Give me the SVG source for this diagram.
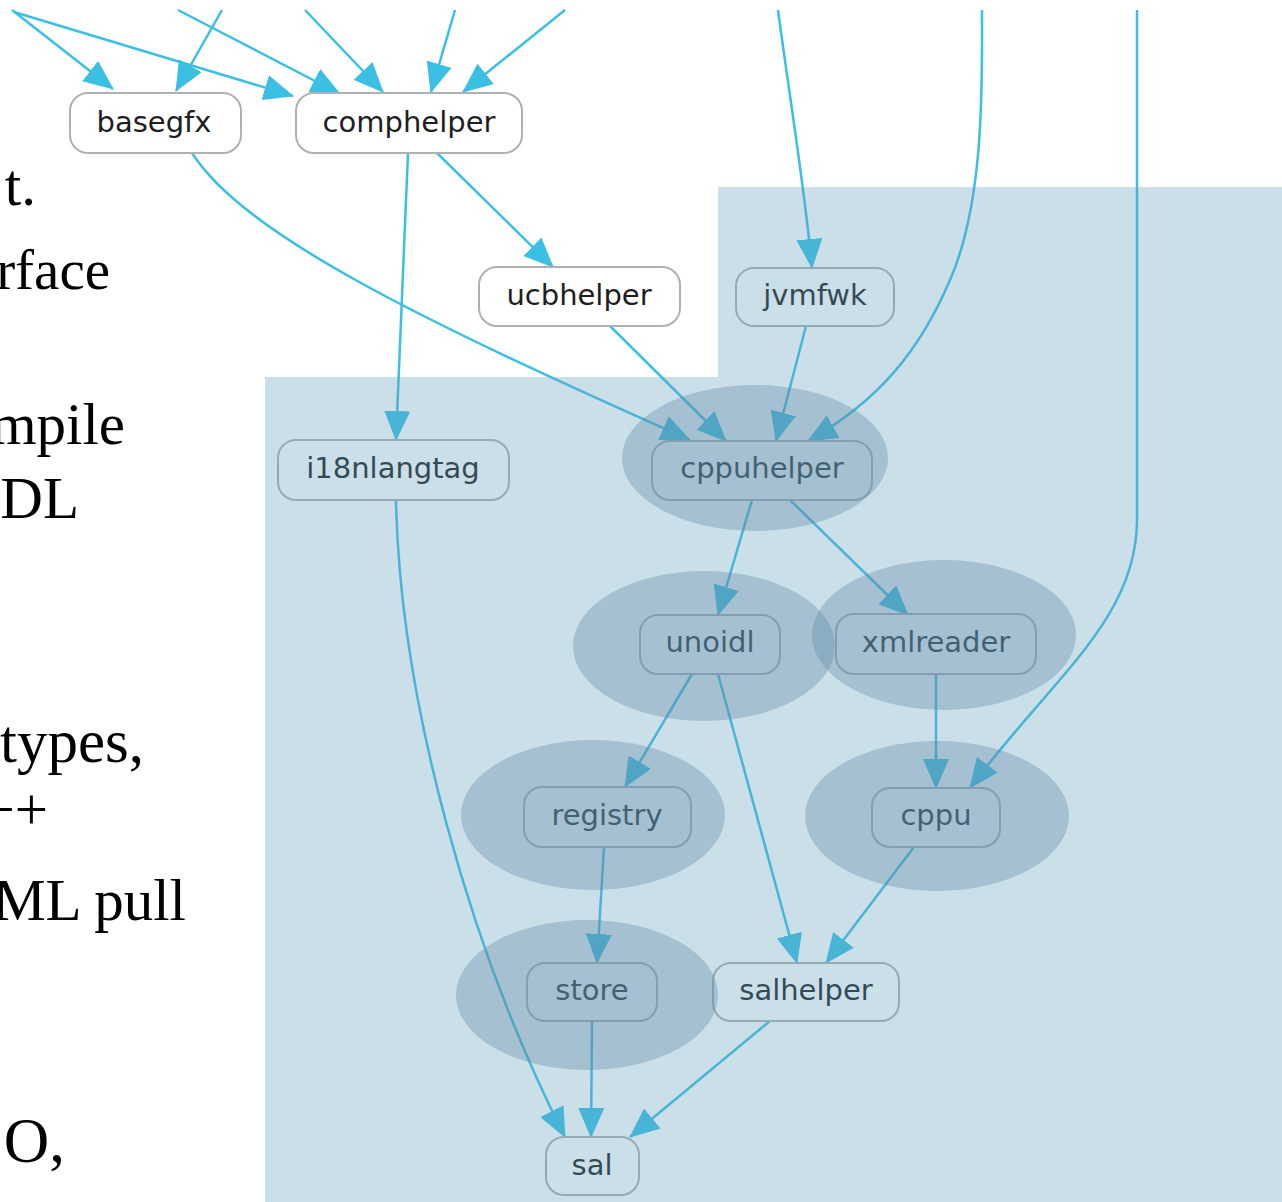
<svg xmlns="http://www.w3.org/2000/svg" width="1282" height="1202" viewBox="0 0 1282 1202">
  <defs>
    <marker id="arrow" markerUnits="userSpaceOnUse" markerWidth="30" markerHeight="26" refX="29" refY="13" orient="auto">
      <path d="M0,0 L30,13 L0,26 z" fill="#3bbfe3"/>
    </marker>
  </defs>
  <style>
    .edge { fill: none; stroke: #3bbfe3; stroke-width: 2.5; marker-end: url(#arrow); }
    .box { fill: #ffffff; stroke: #b0b0b0; stroke-width: 2; }
    .label { font-family: "DejaVu Sans", sans-serif; font-size: 29px; fill: #1e1e1e; text-anchor: middle; dominant-baseline: central; }
    .slide { font-family: "Liberation Serif", serif; font-size: 59px; fill: #000000; text-anchor: end; }
    .area { fill: rgb(100,160,190); fill-opacity: 0.335; }
    .cluster { fill: rgb(95,138,166); fill-opacity: 0.36; }
  </style>

  <rect width="1282" height="1202" fill="#ffffff"/>

  <!-- slide text cut at the left edge -->
  <g id="slide-text">
    <text class="slide" x="36" y="205">t.</text>
    <text class="slide" x="110" y="289" style="font-size:57px">rface</text>
    <text class="slide" x="125" y="444">mpile</text>
    <text class="slide" x="79" y="518">DL</text>
    <text class="slide" x="144" y="762" style="font-size:61px">types,</text>
    <text class="slide" x="48" y="829">++</text>
    <text class="slide" x="186" y="920">ML pull</text>
    <text class="slide" x="65" y="1162" style="font-size:63px">O,</text>
  </g>

  <g id="connectors">
    <path class="edge" d="M12,10 L113,89"/>
    <path class="edge" d="M14,12 L293,96"/>
    <path class="edge" d="M222,10 L176,91"/>
    <path class="edge" d="M178,10 L340,94"/>
    <path class="edge" d="M305,10 L383,92"/>
    <path class="edge" d="M455,10 L431,92"/>
    <path class="edge" d="M565,10 L463,92"/>
    <path class="edge" d="M192,153 C245,235 420,320 690,440"/>
    <path class="edge" d="M408,153 L396,440"/>
    <path class="edge" d="M437,153 L553,267"/>
    <path class="edge" d="M610,326 L726,441"/>
    <path class="edge" d="M806,326 L776,441"/>
    <path class="edge" d="M778,10 C790,100 805,190 812,268"/>
    <path class="edge" d="M982,10 C982,80 985,200 950,280 C920,350 880,400 808,441"/>
    <path class="edge" d="M1137,10 L1137,520 C1137,620 1050,680 970,788"/>
    <path class="edge" d="M752,500 L718,615"/>
    <path class="edge" d="M790,500 L908,615"/>
    <path class="edge" d="M692,674 L625,787"/>
    <path class="edge" d="M718,674 L797,963"/>
    <path class="edge" d="M936,674 L936,788"/>
    <path class="edge" d="M604,847 L597,963"/>
    <path class="edge" d="M914,847 L826,963"/>
    <path class="edge" d="M396,500 C400,700 470,950 565,1137"/>
    <path class="edge" d="M592,1021 L591,1137"/>
    <path class="edge" d="M770,1021 L630,1137"/>
  </g>

  <g id="basegfx"><rect class="box" x="70" y="93" width="171" height="60" rx="18"/><text class="label" x="154" y="122">basegfx</text></g>
  <g id="comphelper"><rect class="box" x="296" y="93" width="226" height="60" rx="18"/><text class="label" x="409" y="122">comphelper</text></g>
  <g id="ucbhelper"><rect class="box" x="479" y="267" width="201" height="59" rx="18"/><text class="label" x="579" y="295">ucbhelper</text></g>
  <g id="jvmfwk"><rect class="box" x="736" y="268" width="158" height="58" rx="18"/><text class="label" x="815" y="295">jvmfwk</text></g>
  <g id="i18nlangtag"><rect class="box" x="278" y="440" width="231" height="60" rx="18"/><text class="label" x="393" y="468">i18nlangtag</text></g>
  <g id="cppuhelper"><rect class="box" x="652" y="441" width="220" height="59" rx="18"/><text class="label" x="762" y="468">cppuhelper</text></g>
  <g id="unoidl"><rect class="box" x="640" y="615" width="140" height="59" rx="18"/><text class="label" x="710" y="642">unoidl</text></g>
  <g id="xmlreader"><rect class="box" x="836" y="614" width="200" height="60" rx="18"/><text class="label" x="936" y="642">xmlreader</text></g>
  <g id="registry"><rect class="box" x="524" y="787" width="167" height="60" rx="18"/><text class="label" x="607" y="815">registry</text></g>
  <g id="cppu"><rect class="box" x="872" y="788" width="128" height="59" rx="18"/><text class="label" x="936" y="815">cppu</text></g>
  <g id="store"><rect class="box" x="527" y="963" width="130" height="58" rx="18"/><text class="label" x="592" y="990">store</text></g>
  <g id="salhelper"><rect class="box" x="713" y="963" width="186" height="58" rx="18"/><text class="label" x="806" y="990">salhelper</text></g>
  <g id="sal"><rect class="box" x="546" y="1137" width="93" height="58" rx="18"/><text class="label" x="592" y="1165">sal</text></g>

  <!-- translucent highlight of the URE area, laid over the graph -->
  <path id="ure-area" class="area" d="M265,377 L718,377 L718,187 L1282,187 L1282,1202 L265,1202 z"/>

  <!-- translucent cluster highlights -->
  <g id="clusters">
    <ellipse class="cluster" cx="755" cy="458" rx="133" ry="73"/>
    <ellipse class="cluster" cx="704" cy="646" rx="131" ry="75"/>
    <ellipse class="cluster" cx="944" cy="635" rx="132" ry="75"/>
    <ellipse class="cluster" cx="593" cy="815" rx="132" ry="75"/>
    <ellipse class="cluster" cx="937" cy="816" rx="132" ry="75"/>
    <ellipse class="cluster" cx="587" cy="995" rx="131" ry="75"/>
  </g>
</svg>
